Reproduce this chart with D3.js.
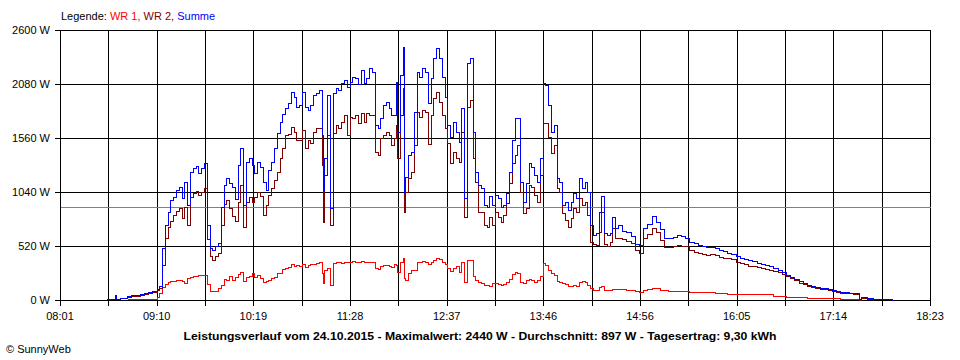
<!DOCTYPE html>
<html>
<head>
<meta charset="utf-8">
<script src="https://cdn.jsdelivr.net/npm/d3@7"></script>
<style>
  body { margin: 0; background: #fff; }
  svg { display: block; }
  text { font-family: "Liberation Sans", Arial, sans-serif; }
</style>
</head>
<body>
<svg id="chart" width="960" height="360"></svg>
<script>
// ---- data ----
const times = [
  "08:34","08:37","08:39","08:40","08:41","08:44","08:48","08:49","08:52","08:55",
  "08:58","09:01","09:04","09:07","09:10","09:12","09:14","09:16","09:18","09:20",
  "09:22","09:24","09:26","09:28","09:30","09:32","09:34","09:36","09:38","09:40",
  "09:42","09:44","09:46","09:48","09:50","09:52","09:54","09:56","09:58","10:00",
  "10:02","10:04","10:06","10:08","10:10","10:12","10:14","10:16","10:18","10:20",
  "10:22","10:24","10:26","10:28","10:30","10:32","10:34","10:36","10:38","10:40",
  "10:42","10:44","10:46","10:48","10:50","10:52","10:54","10:56","10:58","11:00",
  "11:02","11:04","11:06","11:08","11:09","11:10","11:12","11:14","11:16","11:18",
  "11:20","11:22","11:24","11:26","11:28","11:30","11:32","11:34","11:36","11:38",
  "11:40","11:42","11:44","11:46","11:48","11:50","11:52","11:54","11:56","11:58",
  "12:00","12:01","12:02","12:04","12:06","12:07","12:08","12:10","12:12","12:14",
  "12:16","12:18","12:20","12:22","12:24","12:26","12:28","12:30","12:32","12:34",
  "12:36","12:38","12:40","12:42","12:44","12:46","12:48","12:50","12:52","12:54",
  "12:56","12:58","13:00","13:02","13:04","13:06","13:08","13:10","13:12","13:14",
  "13:16","13:18","13:20","13:22","13:24","13:26","13:28","13:30","13:32","13:34",
  "13:36","13:38","13:40","13:42","13:44","13:46","13:48","13:50","13:52","13:54",
  "13:56","13:58","14:00","14:02","14:04","14:06","14:08","14:10","14:12","14:14",
  "14:16","14:18","14:20","14:22","14:24","14:26","14:28","14:30","14:32","14:34",
  "14:36","14:38","14:40","14:43","14:46","14:49","14:52","14:55","14:58","15:01",
  "15:04","15:07","15:10","15:13","15:16","15:19","15:22","15:25","15:28","15:31",
  "15:34","15:37","15:40","15:43","15:46","15:49","15:52","15:55","15:58","16:01",
  "16:04","16:07","16:10","16:13","16:16","16:19","16:22","16:25","16:28","16:31",
  "16:34","16:37","16:40","16:43","16:46","16:49","16:52","16:55","16:58","17:01",
  "17:04","17:07","17:10","17:13","17:16","17:19","17:22","17:25","17:28","17:30",
  "17:32","17:34","17:38","17:42","17:46","17:50","17:56"
];

const summe = [
  10,12,12,48,14,16,16,40,45,52,
  62,70,78,88,106,138,498,722,851,963,
  995,1059,1091,979,1139,915,1236,1268,1287,1220,
  1268,1316,720,500,480,520,546,899,1107,1172,
  1123,1091,970,1300,1461,915,1332,1364,1300,1220,
  1332,1280,1139,1060,1252,1332,1461,1605,1712,1788,
  1850,1900,2006,1958,1862,1878,2006,1862,1830,1878,
  1974,1990,2022,1589,1059,1364,1974,883,1990,2038,
  2022,2086,2118,2054,2102,2151,2135,2077,2215,2086,
  2135,2231,2199,1685,1653,1750,1878,1910,1846,1782,
  1782,2102,1621,2167,2440,1043,1188,1396,1428,1814,
  2199,2151,2231,2199,1900,2135,2327,2424,2327,2151,
  1958,1685,1573,1717,1621,1525,1846,979,2279,2327,
  1621,1236,1107,1075,915,899,1000,915,1011,979,
  899,915,1027,1236,1541,1750,1750,1139,947,1123,
  1316,1284,1204,1139,1364,2086,2070,1878,1621,1685,
  1172,1139,915,947,867,947,1027,979,1172,1075,
  1139,1043,722,626,642,850,1000,642,626,642,
  802,690,722,665,658,619,542,530,690,732,
  812,754,684,600,594,607,626,619,594,562,
  546,530,517,507,507,498,485,472,453,440,
  421,408,395,382,372,353,344,337,331,305,
  289,266,244,221,202,183,164,144,135,128,
  119,112,106,93,87,80,74,67,64,64,
  10,32,19,10,6,6,3
];

const wr2 = [
  null,null,null,null,null,null,null,32,36,40,
  47,56,64,75,93,119,337,594,706,761,
  819,857,889,787,899,722,995,1027,1053,1011,
  1043,1075,590,420,390,420,456,722,921,963,
  889,812,761,947,1107,706,947,995,947,995,
  1043,1000,819,915,1011,1075,1155,1236,1364,1461,
  1589,1595,1669,1621,1541,1541,1637,1461,1541,1509,
  1621,1660,1653,1300,754,1204,1589,722,1605,1685,
  1653,1717,1782,1589,1766,1750,1782,1701,1798,1717,
  1798,1782,1782,1428,1396,1557,1589,1621,1589,1493,
  1557,1685,1364,1782,2038,850,1043,1172,1236,1493,
  1814,1766,1830,1814,1500,1782,1942,2006,1910,1782,
  1653,1509,1316,1428,1364,1332,1621,802,1862,1926,
  1364,1139,851,851,722,706,800,722,851,803,
  754,819,931,1123,1316,1400,1493,1043,835,883,
  1107,1091,1011,947,1204,1701,1701,1573,1412,1493,
  1075,1043,835,770,706,787,883,851,979,915,
  947,819,562,538,530,658,850,538,523,562,
  690,594,594,587,568,546,482,456,594,636,
  690,652,578,514,507,520,533,523,517,485,
  466,456,440,433,440,430,417,408,401,392,
  369,353,344,331,324,318,311,295,289,279,
  266,254,228,209,190,167,151,135,125,119,
  109,103,93,84,77,71,67,64,58,55,
  0,22,10,3,null,null,null
];

const wr1 = [
  null,null,null,null,null,null,null,5,5,5,
  6,6,8,10,29,64,128,157,176,183,
  186,190,193,183,160,209,225,235,235,241,
  241,241,150,85,90,85,112,144,202,193,
  235,196,222,247,266,183,225,235,257,225,
  241,209,176,183,196,212,222,257,257,299,
  308,318,344,331,337,331,350,321,337,344,
  350,353,363,257,160,289,305,144,353,363,
  369,360,369,369,369,376,369,363,376,369,
  369,369,363,305,299,331,337,337,331,318,
  344,337,273,369,402,209,193,257,289,289,
  369,363,379,363,350,369,385,408,395,363,
  344,305,279,311,331,273,363,176,382,385,
  235,193,170,160,144,144,138,160,160,151,
  144,151,170,202,247,273,257,176,164,190,
  202,190,176,196,235,353,337,289,257,241,
  183,170,160,151,138,138,144,138,176,183,
  176,144,112,96,96,128,138,100,96,96,
  110,106,106,106,100,96,87,80,96,106,
  112,112,99,93,87,90,90,90,84,80,
  80,77,74,74,74,71,67,64,61,61,
  61,58,55,55,55,55,55,55,55,42,
  42,42,32,32,32,29,26,22,22,22,
  19,19,16,16,16,13,13,10,10,10,
  10,19,16,6,null,null,null
];

const yTicks = [0, 520, 1040, 1560, 2080, 2600];
const xTickLabels = ["08:01","09:10","10:19","11:28","12:37","13:46","14:56","16:05","17:14","18:23"];
const timeStart = "08:01";
const timeEnd = "18:23";
const average = 897;
const legendParts = ["Legende: ", "WR 1, ", "WR 2, ", "Summe"];
const titleText = "Leistungsverlauf vom 24.10.2015 - Maximalwert: 2440 W - Durchschnitt: 897 W - Tagesertrag: 9,30 kWh";
const footerText = "\u00A9 SunnyWeb";

// ---- drawing ----
const svg = d3.select("#chart");
const parse = d3.timeParse("%H:%M");
const t0 = parse(timeStart), t1 = parse(timeEnd);
const x = d3.scaleTime().domain([t0, t1]).range([60, 930]);
const y = d3.scaleLinear().domain([0, 2600]).range([300, 30]);
const px = v => Math.round(v) + 0.5;

svg.append("rect").attr("width", 960).attr("height", 360).attr("fill", "#fff");

// vertical grid (18 intervals)
const nInt = 18;
const vTicks = d3.range(nInt + 1).map(i => new Date(+t0 + i * (t1 - t0) / nInt));
svg.append("g").selectAll("line").data(vTicks).join("line")
  .attr("x1", d => px(x(d))).attr("x2", d => px(x(d)))
  .attr("y1", px(y(2600))).attr("y2", px(y(0)) + 5)
  .attr("stroke", "#000").attr("stroke-width", 1).attr("shape-rendering", "crispEdges");

// horizontal grid
svg.append("g").selectAll("line").data(yTicks).join("line")
  .attr("x1", 55).attr("x2", px(x(t1)))
  .attr("y1", d => px(y(d))).attr("y2", d => px(y(d)))
  .attr("stroke", "#000").attr("stroke-width", 1).attr("shape-rendering", "crispEdges");

// y labels
svg.append("g").selectAll("text").data(yTicks).join("text")
  .attr("x", 50).attr("y", d => y(d) + 4)
  .attr("text-anchor", "end").attr("font-size", "11px").attr("fill", "#000")
  .text(d => d + " W");

// x labels (every second tick)
svg.append("g").selectAll("text").data(xTickLabels).join("text")
  .attr("x", (d, i) => x(vTicks[i * 2]))
  .attr("y", 320)
  .attr("text-anchor", "middle").attr("font-size", "11px").attr("fill", "#000")
  .text(d => d);

// average line
svg.append("line")
  .attr("x1", px(x(t0))).attr("x2", px(x(t1)))
  .attr("y1", px(y(average))).attr("y2", px(y(average)))
  .attr("stroke", "#808080").attr("stroke-width", 1).attr("shape-rendering", "crispEdges");

// series
const series = [
  { name: "WR 1", values: wr1, color: "#ff0000" },
  { name: "WR 2", values: wr2, color: "#800000" },
  { name: "Summe", values: summe, color: "#0000ff" }
];
const line = d3.line()
  .defined(d => d.v !== null)
  .x(d => px(x(d.t)))
  .y(d => px(y(d.v)))
  .curve(d3.curveStepAfter);

series.forEach(s => {
  const pts = times.map((t, i) => ({ t: parse(t), v: s.values[i] }));
  svg.append("path")
    .datum(pts)
    .attr("d", line)
    .attr("fill", "none")
    .attr("stroke", s.color)
    .attr("stroke-width", 1)
    .attr("shape-rendering", "crispEdges");
});

// legend
const legendColors = ["#000", "#ff0000", "#800000", "#0000ff"];
const lg = svg.append("text").attr("x", 61).attr("y", 20).attr("font-size", "11px")
  .attr("xml:space", "preserve");
legendParts.forEach((p, i) => {
  lg.append("tspan").attr("fill", legendColors[i]).text(p);
});

// title
svg.append("text")
  .attr("x", 480).attr("y", 340)
  .attr("text-anchor", "middle")
  .attr("font-size", "11.5px").attr("font-weight", "bold").attr("fill", "#000")
  .attr("textLength", 593).attr("lengthAdjust", "spacingAndGlyphs")
  .text(titleText);

// footer
svg.append("text")
  .attr("x", 6).attr("y", 353)
  .attr("font-size", "11px").attr("fill", "#000")
  .text(footerText);
</script>
</body>
</html>
